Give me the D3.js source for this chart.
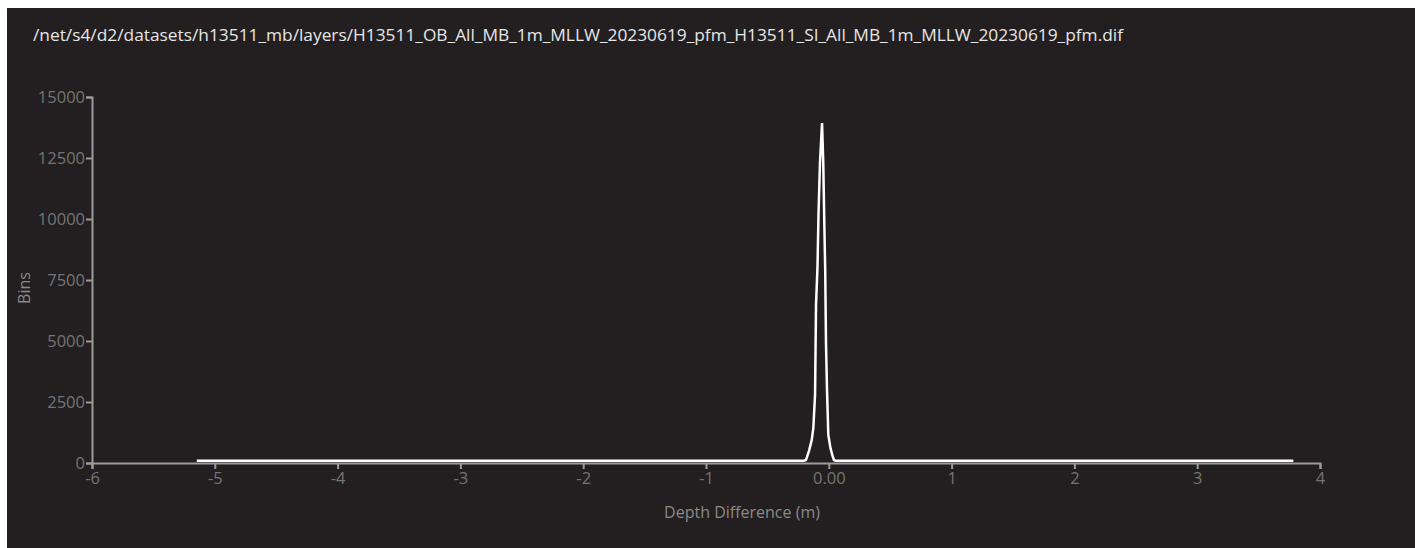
<!DOCTYPE html>
<meta charset="utf-8">
<html lang="en">
<head>
	<title>Depth difference histogram</title>
	<script src="https://d3js.org/d3.v7.min.js" charset="utf-8"></script>
	<style>
		html, body { margin: 0; padding: 0; background: #fff; }
		svg { display: block; }
		text { font-family: "Open Sans", "Noto Sans", sans-serif; }
	</style>
</head>
<body>
	<script>
// values
var title = "/net/s4/d2/datasets/h13511_mb/layers/H13511_OB_All_MB_1m_MLLW_20230619_pfm_H13511_SI_All_MB_1m_MLLW_20230619_pfm.dif";

// depth difference (m) and bin counts
var depthDiff = [-5.147, -4.5, -3.5, -2.5, -1.5, -0.6, -0.205, -0.186, -0.161, -0.139, -0.126, -0.112, -0.104, -0.092, -0.084, -0.072, -0.055,
                 -0.045, -0.036, -0.029, -0.023, -0.015, -0.004, 0.014, 0.030, 0.042, 0.055, 0.5, 1.5, 2.5, 3.5, 3.783];
var binCount  = [90, 90, 90, 90, 90, 90, 90, 120, 500, 940, 1430, 2790, 6470, 8070, 10160, 12290, 13930,
                 12290, 9670, 7830, 4960, 3070, 1150, 600, 300, 120, 90, 90, 90, 90, 90, 90];

var xTicks = [-6, -5, -4, -3, -2, -1, 0, 1, 2, 3, 4];
var xTickLabels = ["-6", "-5", "-4", "-3", "-2", "-1", "0.00", "1", "2", "3", "4"];
var yTicks = [0, 2500, 5000, 7500, 10000, 12500, 15000];

var width = 1415,
    height = 548;

var svg = d3.select("body").append("svg")
    .attr("width", width)
    .attr("height", height);

// dark panel with the thin white strip left and top
svg.append("rect")
    .attr("x", 7).attr("y", 8)
    .attr("width", width - 7).attr("height", height - 8)
    .attr("fill", "#231f20");

var x = d3.scaleLinear().domain([-6, 4]).range([92, 1320]);
var y = d3.scaleLinear().domain([0, 15000]).range([463, 97]);

svg.append("text")
    .attr("x", 33).attr("y", 41)
    .attr("fill", "#e6e6e6")
    .attr("textLength", 1090)
    .attr("lengthAdjust", "spacingAndGlyphs")
    .style("font-size", "16px")
    .text(title);

var xAxis = svg.append("g")
    .attr("transform", "translate(0," + y(0) + ")")
    .call(d3.axisBottom(x)
        .tickValues(xTicks)
        .tickFormat(function(d, i) { return xTickLabels[i]; })
        .tickSize(6)
        .tickPadding(3));

var yAxis = svg.append("g")
    .attr("transform", "translate(" + x(-6) + ",0)")
    .call(d3.axisLeft(y)
        .tickValues(yTicks)
        .tickFormat(d3.format("d"))
        .tickSize(6)
        .tickPadding(1));

[xAxis, yAxis].forEach(function(g) {
  g.select(".domain").attr("stroke", "#9b9b9b").attr("stroke-width", 2);
  g.selectAll(".tick line").attr("stroke", "#9b9b9b").attr("stroke-width", 2);
  g.selectAll(".tick text")
      .attr("fill", "#747474")
      .style("font-size", "16.5px")
      .style("font-family", "'Open Sans', 'Noto Sans', sans-serif");
});

svg.append("text")
    .attr("transform", "translate(30,288) rotate(-90)")
    .attr("text-anchor", "middle")
    .attr("fill", "#8a8a8a")
    .style("font-size", "16px")
    .text("Bins");

svg.append("text")
    .attr("x", 742).attr("y", 518)
    .attr("text-anchor", "middle")
    .attr("fill", "#8a8a8a")
    .style("font-size", "16px")
    .text("Depth Difference (m)");

var line = d3.line()
    .x(function(d, i) { return x(depthDiff[i]); })
    .y(function(d) { return y(d); });

svg.append("path")
    .datum(binCount)
    .attr("d", line)
    .attr("fill", "none")
    .attr("stroke", "#ffffff")
    .attr("stroke-width", 2.5)
    .attr("stroke-linejoin", "miter");
	</script>
</body>
</html>
